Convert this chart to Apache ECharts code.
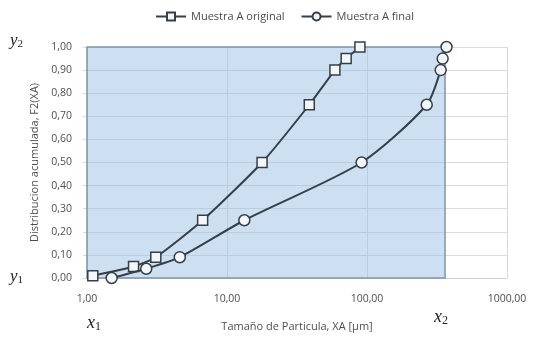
<!DOCTYPE html>
<html><head><meta charset="utf-8">
<script src="https://cdn.jsdelivr.net/npm/echarts@6/dist/echarts.min.js"></script>
<style>html,body{margin:0;padding:0;background:#fff}#c{width:539px;height:343px}</style>
</head><body><div id="c"></div>
<script>
const originalX = [1.1, 2.15, 3.1, 6.7, 17.8, 38.7, 59, 71, 89];
const originalY = [0.01, 0.05, 0.09, 0.25, 0.50, 0.75, 0.90, 0.95, 1.00];
const finalX = [1.5, 2.65, 4.6, 13.3, 91.5, 267, 336, 347, 370];
const finalY = [0.00, 0.04, 0.09, 0.25, 0.50, 0.75, 0.90, 0.95, 1.00];
const xTicks = [1, 10, 100, 1000];
const seriesNames = ['Muestra A original', 'Muestra A final'];
const areaX = [1, 361];
const areaY = [0, 1];

const fmt = v => v.toFixed(2).replace('.', ',');
const pairs = (xs, ys) => xs.map((x, i) => [x, ys[i]]);

const chart = echarts.init(document.getElementById('c'));
const lineColor = '#363f48';
const font = 'Open Sans';
const serif = 'Liberation Serif';
chart.setOption({
  animation: false,
  legend: {
    top: 6, left: 150, itemWidth: 30, itemHeight: 10, itemGap: 16,
    textStyle: { fontFamily: font, fontSize: 11, color: '#4a4a4a' },
    data: seriesNames
  },
  grid: { left: 87, right: 32, top: 47, bottom: 65 },
  xAxis: {
    type: 'log', logBase: 10, min: 1, max: 1000,
    name: 'Tamaño de Particula, XA [µm]', nameLocation: 'middle', nameGap: 43,
    nameTextStyle: { fontFamily: font, fontSize: 11, color: '#4f4f4f' },
    axisLine: { show: true, lineStyle: { color: '#d0d0d0' } },
    axisTick: { show: false },
    axisLabel: { fontFamily: font, fontSize: 10.5, color: '#4f4f4f', margin: 16,
      formatter: v => xTicks.indexOf(Math.round(v)) >= 0 ? fmt(v) : '' },
    splitLine: { show: true, lineStyle: { color: '#d9d9d9', width: 1 } },
    minorTick: { show: false }
  },
  yAxis: {
    type: 'value', min: 0, max: 1, interval: 0.1,
    name: 'Distribucion acumulada, F2(XA)', nameLocation: 'middle', nameGap: 45,
    nameTextStyle: { fontFamily: font, fontSize: 11, color: '#4f4f4f' },
    axisLine: { show: false },
    axisTick: { show: true, length: 4, lineStyle: { color: '#d9d9d9' } },
    axisLabel: { fontFamily: font, fontSize: 10.5, color: '#4f4f4f', margin: 15, formatter: v => fmt(v) },
    splitLine: { show: true, lineStyle: { color: '#d9d9d9', width: 1 } }
  },
  series: [
    {
      name: seriesNames[0], type: 'line', smooth: 0.2,
      data: pairs(originalX, originalY),
      symbol: 'rect', symbolSize: 10,
      lineStyle: { color: lineColor, width: 2 },
      itemStyle: { color: '#f4f7fa', borderColor: lineColor, borderWidth: 1.5 },
      z: 3,
      markArea: {
        silent: true,
        itemStyle: { color: 'rgba(155,194,230,0.5)', borderColor: '#7f96ab', borderWidth: 1.5 },
        data: [[{ coord: [areaX[0], areaY[0]] }, { coord: [areaX[1], areaY[1]] }]]
      }
    },
    {
      name: seriesNames[1], type: 'line', smooth: 0.25,
      data: pairs(finalX, finalY),
      symbol: 'circle', symbolSize: 11,
      lineStyle: { color: lineColor, width: 2 },
      itemStyle: { color: '#f4f7fa', borderColor: lineColor, borderWidth: 1.5 },
      z: 4
    }
  ],
  graphic: [
    { type: 'text', left: 10, top: 32, style: { text: '{a|y}{b|2}', rich: {
      a: { fontFamily: serif, fontStyle: 'italic', fontSize: 17, fill: '#222' },
      b: { fontFamily: serif, fontSize: 11, fill: '#222', padding: [8,0,0,0] } } } },
    { type: 'text', left: 10, top: 268, style: { text: '{a|y}{b|1}', rich: {
      a: { fontFamily: serif, fontStyle: 'italic', fontSize: 17, fill: '#222' },
      b: { fontFamily: serif, fontSize: 11, fill: '#222', padding: [8,0,0,0] } } } },
    { type: 'text', left: 87, top: 314, style: { text: '{a|x}{b|1}', rich: {
      a: { fontFamily: serif, fontStyle: 'italic', fontSize: 18, fill: '#222' },
      b: { fontFamily: serif, fontSize: 12, fill: '#222', padding: [8,0,0,0] } } } },
    { type: 'text', left: 434, top: 308, style: { text: '{a|x}{b|2}', rich: {
      a: { fontFamily: serif, fontStyle: 'italic', fontSize: 18, fill: '#222' },
      b: { fontFamily: serif, fontSize: 12, fill: '#222', padding: [8,0,0,0] } } } }
  ]
});
</script></body></html>
